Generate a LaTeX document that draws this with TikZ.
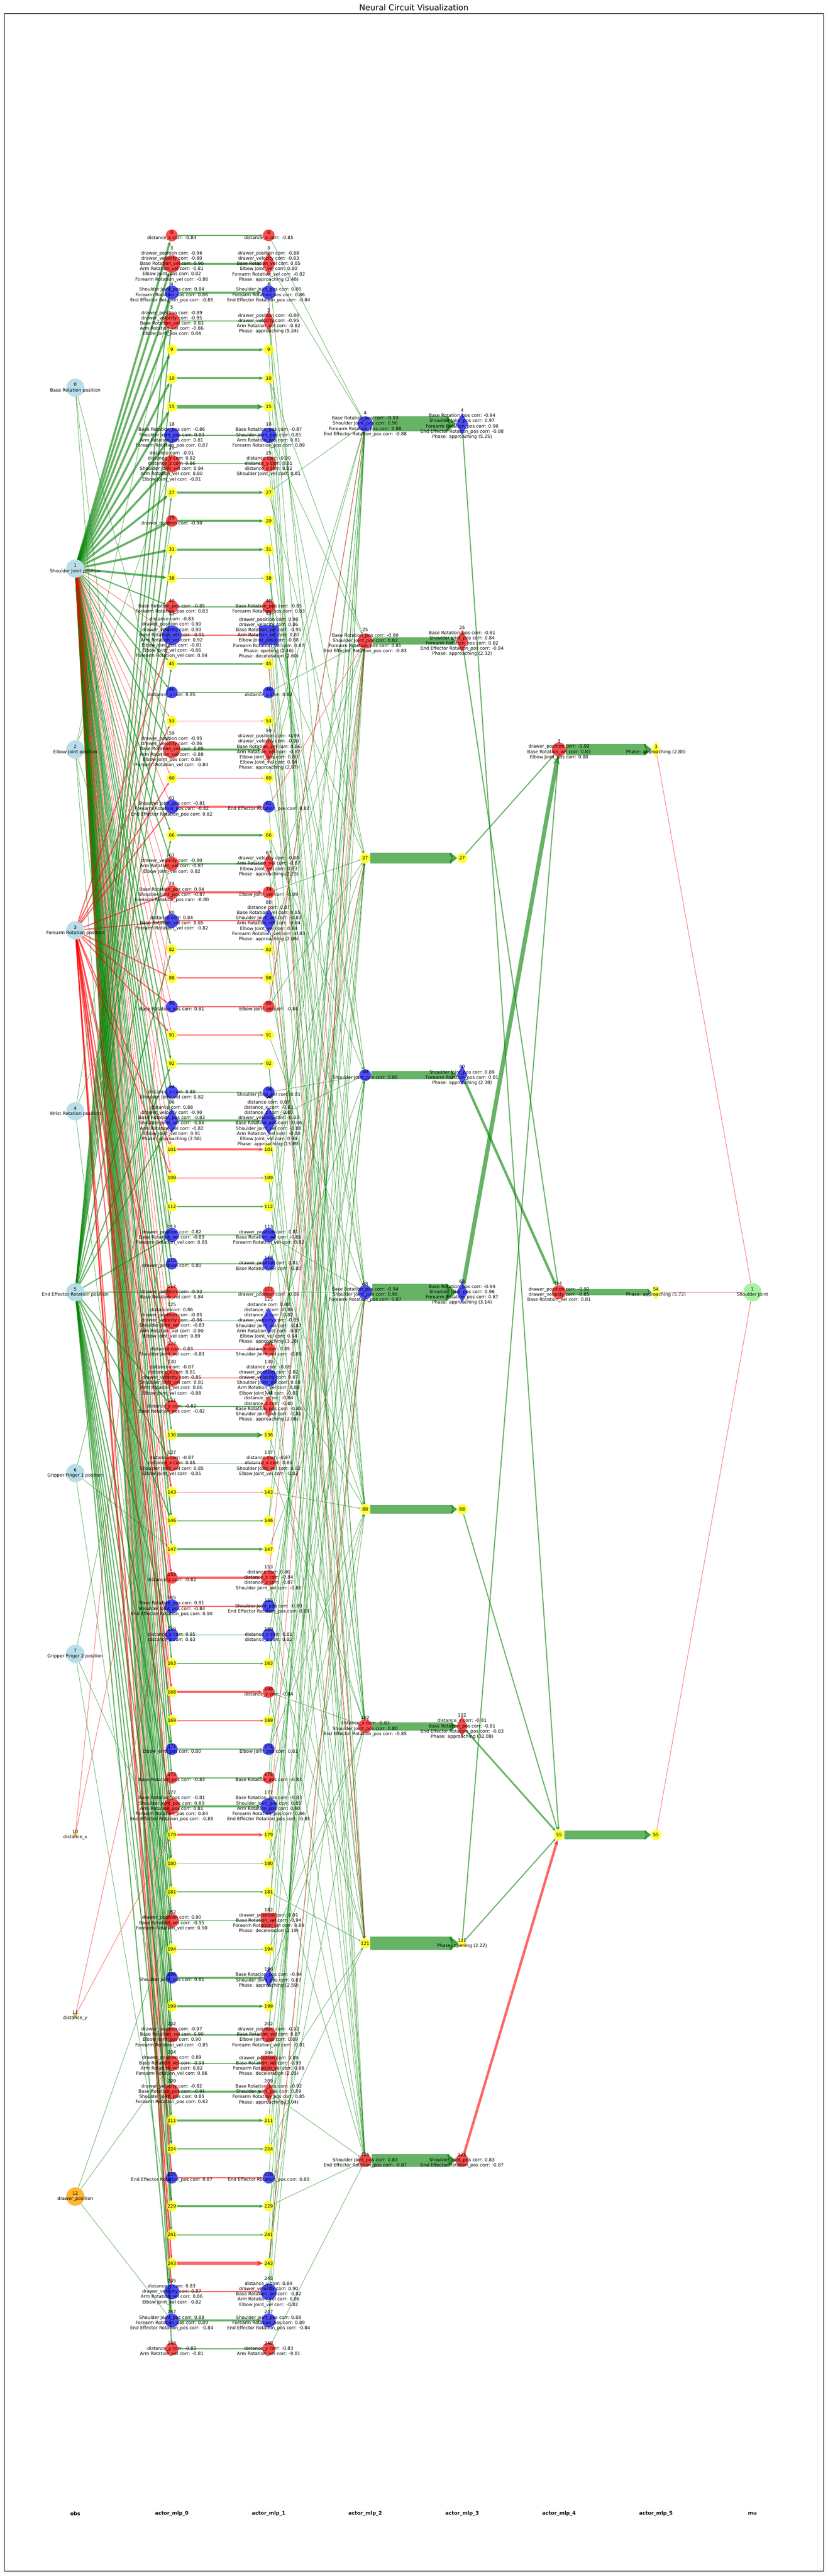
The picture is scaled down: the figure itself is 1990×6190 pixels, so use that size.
\documentclass[tikz,border=0pt]{standalone}
\usepackage{fontspec}
\setmainfont{DejaVu Sans}
\usetikzlibrary{shapes.geometric, arrows.meta}
\pgfdeclarelayer{edges}
\pgfdeclarelayer{labels}
\pgfsetlayers{edges,main,labels}

\definecolor{ngreen}{RGB}{0,128,0}
\definecolor{nred}{RGB}{255,0,0}
\definecolor{nblue}{RGB}{0,0,255}
\definecolor{nyellow}{RGB}{255,255,0}
\definecolor{obsblue}{RGB}{173,216,230}
\definecolor{obsorange}{RGB}{255,165,0}
\definecolor{mugreen}{RGB}{144,238,144}

\tikzset{
  neuron/.style={inner sep=0pt, outer sep=0pt, draw=none, fill opacity=.7},
  nrc/.style={neuron, circle, fill=nred, minimum size=2*#1},
  nbc/.style={neuron, circle, fill=nblue, minimum size=2*#1},
  nyc/.style={neuron, circle, fill=nyellow, fill opacity=.8, minimum size=2*#1},
  nrd/.style={neuron, diamond, fill=nred, minimum width=1.5*#1, minimum height=2.7*#1},
  nbd/.style={neuron, diamond, fill=nblue, minimum width=1.5*#1, minimum height=2.7*#1},
  nyd/.style={neuron, diamond, fill=nyellow, fill opacity=.8, minimum width=1.5*#1, minimum height=2.7*#1},
  nrs/.style={neuron, rectangle, fill=nred, minimum size=2*#1},
  nbs/.style={neuron, rectangle, fill=nblue, minimum size=2*#1},
  nyt/.style={neuron, regular polygon, regular polygon sides=3, fill=nyellow, fill opacity=.8, minimum size=2.4*#1},
  nobs/.style={neuron, circle, fill=obsblue, fill opacity=.85, minimum size=2*#1},
  norange/.style={neuron, circle, fill=obsorange, fill opacity=.8, minimum size=2*#1},
  nmu/.style={neuron, circle, fill=mugreen, fill opacity=.8, minimum size=2*#1},
  lbl/.style={align=center, inner sep=0pt, font=\fontsize{10.8}{12.6}\selectfont},
  layername/.style={font=\fontsize{12}{14}\selectfont\bfseries},
  syn/.style={-{Stealth[length=3pt 1.6, width=2.5pt 1.3]}, draw opacity=.6, fill opacity=.6},
  gthin/.style={syn, draw=ngreen, line width=1.1pt},
  gmid/.style={syn, draw=ngreen, line width=2.6pt},
  gthick/.style={syn, draw=ngreen, line width=5pt},
  gfat/.style={syn, draw=ngreen, line width=8.5pt},
  rthin/.style={syn, draw=nred, line width=1.1pt},
  rmid/.style={syn, draw=nred, line width=2.6pt},
  rthick/.style={syn, draw=nred, line width=5pt},
  rfat/.style={syn, draw=nred, line width=8.5pt},
  bar/.style={draw=ngreen, draw opacity=.6, fill opacity=.6, line width=#1,
    -{Stealth[length=2pt .75, width=2pt 1.2, round]}},
}

% one row of actor_mlp_0 / actor_mlp_1
\newcommand{\pairrow}[6]{%
  \pgfmathsetmacro{\rowy}{497+68.6316*(#1+1)}
  \node[#2] (m0r#1) at (413,\rowy) {};
  \node[#3] (m1r#1) at (646,\rowy) {};
  \begin{pgfonlayer}{labels}
    \node[lbl] at (m0r#1) {#5};
    \node[lbl] at (m1r#1) {#6};
  \end{pgfonlayer}
  \begin{pgfonlayer}{edges}
    \draw[#4] (m0r#1) -- (m1r#1);
  \end{pgfonlayer}
}
\newcommand{\yrow}[3]{\pairrow{#1}{nyc=12.5}{nyc=12.5}{#3}{#2}{#2}}

% one row of actor_mlp_2 / actor_mlp_3
\newcommand{\deeprow}[6]{%
  \pgfmathsetmacro{\rowy}{497+521.6*(#1+1)}
  \node[#2] (m2r#1) at (878,\rowy) {};
  \node[#3] (m3r#1) at (1111,\rowy) {};
  \begin{pgfonlayer}{labels}
    \node[lbl] at (m2r#1) {#5};
    \node[lbl] at (m3r#1) {#6};
  \end{pgfonlayer}
  \begin{pgfonlayer}{edges}
    \draw[bar=#4pt] (m2r#1) -- (m3r#1);
  \end{pgfonlayer}
}

\begin{document}
\begin{tikzpicture}[x=1pt, y=-1pt]
\useasboundingbox (0,0) rectangle (1990,6190);
\node[font=\fontsize{19.5}{22}\selectfont] (title) at (995,18) {Neural Circuit Visualization};
\draw[line width=1.1pt] (10,33) rectangle (1980,6178);

% obs
\node[nobs=22] (obs0) at (181,931.7) {};
\node[nobs=22] (obs1) at (181,1366.3) {};
\node[nobs=22] (obs2) at (181,1801) {};
\node[nobs=22] (obs3) at (181,2235.7) {};
\node[nobs=22] (obs4) at (181,2670.3) {};
\node[nobs=22] (obs5) at (181,3105) {};
\node[nobs=22] (obs6) at (181,3539.7) {};
\node[nobs=22] (obs7) at (181,3974.3) {};
\node[norange=5] (obs8) at (181,4409) {};
\node[norange=5] (obs9) at (181,4843.7) {};
\node[norange=22] (obs10) at (181,5278.3) {};
\begin{pgfonlayer}{labels}
  \node[lbl] at (obs0) {0\\Base Rotation position};
  \node[lbl] at (obs1) {1\\Shoulder Joint position};
  \node[lbl] at (obs2) {2\\Elbow Joint position};
  \node[lbl] at (obs3) {3\\Forearm Rotation position};
  \node[lbl] at (obs4) {4\\Wrist Rotation position};
  \node[lbl] at (obs5) {5\\End Effector Rotation position};
  \node[lbl] at (obs6) {6\\Gripper Finger 1 position};
  \node[lbl] at (obs7) {7\\Gripper Finger 2 position};
  \node[lbl] at (obs8) {10\\distance\_x};
  \node[lbl] at (obs9) {11\\distance\_y};
  \node[lbl] at (obs10) {12\\drawer\_position};
\end{pgfonlayer}

% actor_mlp_0 and actor_mlp_1
\pairrow{0}{nrc=14.3}{nrc=14.3}{gmid}{0\\distance\_x corr: -0.84}{0\\distance\_x corr: -0.85}
\pairrow{1}{nrc=20.8}{nrd=20.8}{gthick}{3\\drawer\_position corr: -0.96\\drawer\_velocity corr: -0.80\\Base Rotation\_vel corr: 0.90\\Arm Rotation\_vel corr: -0.81\\Elbow Joint\_pos corr: 0.82\\Forearm Rotation\_vel corr: -0.86}{3\\drawer\_position corr: -0.88\\drawer\_velocity corr: -0.83\\Base Rotation\_vel corr: 0.85\\Elbow Joint\_vel corr: 0.80\\Forearm Rotation\_vel corr: -0.82\\Phase: approaching (2.48)}
\pairrow{2}{nbc=16.9}{nbc=16.9}{gthick}{4\\Shoulder Joint\_pos corr: 0.84\\Forearm Rotation\_pos corr: 0.86\\End Effector Rotation\_pos corr: -0.85}{4\\Shoulder Joint\_pos corr: 0.86\\Forearm Rotation\_pos corr: 0.86\\End Effector Rotation\_pos corr: -0.84}
\pairrow{3}{nrc=19.5}{nrd=18.2}{gmid}{5\\drawer\_position corr: -0.89\\drawer\_velocity corr: -0.95\\Base Rotation\_vel corr: 0.83\\Arm Rotation\_vel corr: -0.86\\Elbow Joint\_pos corr: 0.84}{5\\drawer\_position corr: -0.80\\drawer\_velocity corr: -0.95\\Arm Rotation\_vel corr: -0.82\\Phase: approaching (5.24)}
\yrow{4}{9}{gthick}
\yrow{5}{10}{gthick}
\yrow{6}{15}{gfat}
\pairrow{7}{nbc=18.2}{nbc=18.2}{gmid}{18\\Base Rotation\_pos corr: -0.86\\Shoulder Joint\_pos corr: 0.83\\Arm Rotation\_pos corr: 0.81\\Forearm Rotation\_pos corr: 0.87}{18\\Base Rotation\_pos corr: -0.87\\Shoulder Joint\_pos corr: 0.85\\Arm Rotation\_pos corr: 0.81\\Forearm Rotation\_pos corr: 0.89}
\pairrow{8}{nrc=20.8}{nrc=18.2}{gmid}{25\\distance corr: -0.91\\distance\_y corr: 0.82\\distance\_z corr: 0.86\\Shoulder Joint\_vel corr: 0.84\\Arm Rotation\_vel corr: 0.80\\Elbow Joint\_vel corr: -0.81}{25\\distance corr: -0.90\\distance\_y corr: 0.81\\distance\_z corr: 0.82\\Shoulder Joint\_vel corr: 0.81}
\yrow{9}{27}{gthick}
\pairrow{10}{nrc=14.3}{nyc=12.5}{gthick}{29\\drawer\_position corr: -0.90}{29}
\yrow{11}{31}{gthick}
\yrow{12}{38}{gthin}
\pairrow{13}{nrc=15.6}{nrc=15.6}{gmid}{40\\Base Rotation\_pos corr: -0.85\\Forearm Rotation\_pos corr: 0.83}{40\\Base Rotation\_pos corr: -0.85\\Forearm Rotation\_pos corr: 0.83}
\pairrow{14}{nbc=23.4}{nbs=23.4}{rmid}{43\\distance corr: -0.83\\drawer\_position corr: 0.90\\drawer\_velocity corr: 0.90\\Base Rotation\_vel corr: -0.91\\Arm Rotation\_vel corr: 0.92\\Elbow Joint\_pos corr: -0.81\\Elbow Joint\_vel corr: -0.86\\Forearm Rotation\_vel corr: 0.84}{43\\drawer\_position corr: 0.98\\drawer\_velocity corr: 0.86\\Base Rotation\_vel corr: -0.95\\Arm Rotation\_vel corr: 0.87\\Elbow Joint\_pos corr: -0.88\\Forearm Rotation\_vel corr: 0.87\\Phase: opening (2.16)\\Phase: deceleration (2.60)}
\yrow{15}{45}{gmid}
\pairrow{16}{nbc=14.3}{nbc=14.3}{gmid}{46\\distance\_y corr: 0.85}{46\\distance\_y corr: 0.82}
\yrow{17}{53}{rthin}
\pairrow{18}{nrc=20.8}{nrd=22.1}{gthick}{59\\drawer\_position corr: -0.95\\drawer\_velocity corr: -0.86\\Base Rotation\_vel corr: 0.89\\Arm Rotation\_vel corr: -0.88\\Elbow Joint\_pos corr: 0.86\\Forearm Rotation\_vel corr: -0.84}{59\\drawer\_position corr: -0.89\\drawer\_velocity corr: -0.90\\Base Rotation\_vel corr: 0.86\\Arm Rotation\_vel corr: -0.87\\Elbow Joint\_pos corr: 0.80\\Elbow Joint\_vel corr: 0.84\\Phase: approaching (2.97)}
\yrow{19}{60}{rthin}
\pairrow{20}{nbc=16.9}{nbc=14.3}{rthick}{61\\Shoulder Joint\_pos corr: -0.81\\Forearm Rotation\_pos corr: -0.82\\End Effector Rotation\_pos corr: 0.82}{61\\End Effector Rotation\_pos corr: 0.82}
\yrow{21}{66}{gthick}
\pairrow{22}{nrc=16.9}{nrd=18.2}{gmid}{67\\drawer\_velocity corr: -0.80\\Arm Rotation\_vel corr: -0.87\\Elbow Joint\_vel corr: 0.82}{67\\drawer\_velocity corr: -0.80\\Arm Rotation\_vel corr: -0.87\\Elbow Joint\_vel corr: 0.83\\Phase: approaching (2.23)}
\pairrow{23}{nrc=16.9}{nrc=14.3}{rthick}{74\\Base Rotation\_pos corr: 0.84\\Shoulder Joint\_pos corr: -0.87\\Forearm Rotation\_pos corr: -0.80}{74\\Elbow Joint\_vel corr: -0.89}
\pairrow{24}{nbc=16.9}{nbd=22.1}{rmid}{80\\distance corr: 0.84\\Base Rotation\_vel corr: 0.85\\Forearm Rotation\_vel corr: -0.82}{80\\distance corr: 0.87\\Base Rotation\_vel corr: 0.85\\Shoulder Joint\_vel corr: -0.83\\Arm Rotation\_vel corr: -0.84\\Elbow Joint\_vel corr: 0.84\\Forearm Rotation\_vel corr: -0.83\\Phase: approaching (2.06)}
\yrow{25}{82}{gthin}
\yrow{26}{88}{rmid}
\pairrow{27}{nbc=14.3}{nrc=14.3}{rmid}{90\\Base Rotation\_pos corr: 0.81}{90\\Elbow Joint\_vel corr: -0.84}
\yrow{28}{91}{rmid}
\yrow{29}{92}{gmid}
\pairrow{30}{nbc=15.6}{nbc=14.3}{gmid}{94\\distance\_x corr: 0.80\\Shoulder Joint\_vel corr: 0.82}{94\\Shoulder Joint\_vel corr: 0.81}
\pairrow{31}{nbd=22.1}{nbd=24.7}{gthick}{96\\distance corr: 0.88\\drawer\_velocity corr: -0.90\\Base Rotation\_pos corr: -0.83\\Shoulder Joint\_vel corr: -0.86\\Arm Rotation\_vel corr: -0.82\\Elbow Joint\_vel corr: 0.91\\Phase: approaching (2.58)}{96\\distance corr: 0.87\\distance\_x corr: -0.83\\distance\_z corr: -0.80\\drawer\_velocity corr: -0.83\\Base Rotation\_pos corr: -0.86\\Shoulder Joint\_vel corr: -0.88\\Arm Rotation\_vel corr: -0.80\\Elbow Joint\_vel corr: 0.94\\Phase: approaching (15.89)}
\yrow{32}{101}{rthick}
\yrow{33}{109}{rthin}
\yrow{34}{112}{gmid}
\pairrow{35}{nbc=16.9}{nbc=16.9}{gmid}{113\\drawer\_position corr: 0.82\\Base Rotation\_vel corr: -0.83\\Forearm Rotation\_vel corr: 0.85}{113\\drawer\_position corr: 0.81\\Base Rotation\_vel corr: -0.81\\Forearm Rotation\_vel corr: 0.82}
\pairrow{36}{nbc=14.3}{nbc=15.6}{gmid}{115\\drawer\_position corr: 0.80}{115\\drawer\_position corr: 0.81\\Base Rotation\_vel corr: -0.80}
\pairrow{37}{nrc=15.6}{nrc=14.3}{gmid}{117\\drawer\_position corr: -0.92\\Base Rotation\_vel corr: 0.84}{117\\drawer\_position corr: -0.86}
\pairrow{38}{nrc=20.8}{nbd=23.4}{gthin}{125\\distance corr: 0.86\\drawer\_position corr: -0.85\\drawer\_velocity corr: -0.86\\Shoulder Joint\_vel corr: -0.83\\Arm Rotation\_vel corr: -0.90\\Elbow Joint\_vel corr: 0.89}{125\\distance corr: 0.88\\distance\_x corr: -0.84\\distance\_z corr: -0.82\\drawer\_velocity corr: -0.85\\Shoulder Joint\_vel corr: -0.87\\Arm Rotation\_vel corr: -0.87\\Elbow Joint\_vel corr: 0.94\\Phase: approaching (3.28)}
\pairrow{39}{nrc=15.6}{nrc=15.6}{rthin}{127\\distance corr: 0.83\\Shoulder Joint\_vel corr: -0.83}{127\\distance corr: 0.85\\Shoulder Joint\_vel corr: -0.85}
\pairrow{40}{nrc=20.8}{nbc=20.8}{rthin}{130\\distance corr: -0.87\\distance\_x corr: 0.81\\drawer\_velocity corr: 0.85\\Shoulder Joint\_vel corr: 0.81\\Arm Rotation\_vel corr: 0.86\\Elbow Joint\_vel corr: -0.88}{130\\distance corr: -0.88\\drawer\_position corr: 0.82\\drawer\_velocity corr: 0.87\\Shoulder Joint\_vel corr: 0.80\\Arm Rotation\_vel corr: 0.88\\Elbow Joint\_vel corr: -0.87}
\pairrow{41}{nrc=15.6}{nrd=19.5}{gmid}{131\\distance\_x corr: -0.82\\Base Rotation\_pos corr: -0.82}{131\\distance\_x corr: -0.84\\distance\_z corr: -0.80\\Base Rotation\_pos corr: -0.83\\Shoulder Joint\_vel corr: -0.81\\Phase: approaching (2.06)}
\yrow{42}{136}{gfat}
\pairrow{43}{nrc=18.2}{nrc=18.2}{gthin}{137\\distance corr: -0.87\\distance\_x corr: 0.85\\Shoulder Joint\_vel corr: 0.85\\Elbow Joint\_vel corr: -0.85}{137\\distance corr: -0.87\\distance\_x corr: 0.81\\Shoulder Joint\_vel corr: 0.82\\Elbow Joint\_vel corr: -0.82}
\yrow{44}{143}{rthin}
\yrow{45}{146}{gmid}
\yrow{46}{147}{gthick}
\pairrow{47}{nrc=14.3}{nrc=18.2}{rthick}{153\\distance\_z corr: -0.82}{153\\distance corr: 0.80\\distance\_x corr: -0.84\\distance\_z corr: -0.87\\Shoulder Joint\_vel corr: -0.85}
\pairrow{48}{nbc=16.9}{nbc=15.6}{rmid}{155\\Base Rotation\_pos corr: 0.81\\Shoulder Joint\_pos corr: -0.84\\End Effector Rotation\_pos corr: 0.90}{155\\Shoulder Joint\_pos corr: -0.80\\End Effector Rotation\_pos corr: 0.89}
\pairrow{49}{nbc=15.6}{nbc=15.6}{gthin}{159\\distance\_x corr: 0.85\\distance\_z corr: 0.83}{159\\distance\_x corr: 0.81\\distance\_z corr: 0.82}
\yrow{50}{163}{gmid}
\pairrow{51}{nyc=12.5}{nrc=14.3}{rthick}{168}{168\\distance\_y corr: -0.84}
\yrow{52}{169}{rmid}
\pairrow{53}{nbc=14.3}{nbc=14.3}{gmid}{171\\Elbow Joint\_pos corr: 0.80}{171\\Elbow Joint\_pos corr: 0.81}
\pairrow{54}{nrc=14.3}{nrc=14.3}{gmid}{173\\Base Rotation\_pos corr: -0.83}{173\\Base Rotation\_pos corr: -0.83}
\pairrow{55}{nrc=19.5}{nbc=19.5}{gthick}{177\\Base Rotation\_pos corr: -0.81\\Shoulder Joint\_pos corr: 0.83\\Arm Rotation\_pos corr: 0.81\\Forearm Rotation\_pos corr: 0.84\\End Effector Rotation\_pos corr: -0.85}{177\\Base Rotation\_pos corr: -0.83\\Shoulder Joint\_pos corr: 0.85\\Arm Rotation\_pos corr: 0.80\\Forearm Rotation\_pos corr: 0.86\\End Effector Rotation\_pos corr: -0.85}
\yrow{56}{179}{rthick}
\yrow{57}{180}{gthin}
\yrow{58}{181}{gmid}
\pairrow{59}{nrc=16.9}{nrs=18.2}{gthin}{182\\drawer\_position corr: 0.90\\Base Rotation\_vel corr: -0.95\\Forearm Rotation\_vel corr: 0.90}{182\\drawer\_position corr: 0.91\\Base Rotation\_vel corr: -0.94\\Forearm Rotation\_vel corr: 0.89\\Phase: deceleration (2.19)}
\yrow{60}{194}{gthin}
\pairrow{61}{nbc=14.3}{nbd=16.9}{gthick}{196\\Shoulder Joint\_pos corr: 0.81}{196\\Base Rotation\_pos corr: -0.84\\Shoulder Joint\_pos corr: 0.87\\Phase: approaching (2.59)}
\yrow{62}{199}{gthick}
\pairrow{63}{nrc=18.2}{nrc=18.2}{gmid}{202\\drawer\_position corr: -0.97\\Base Rotation\_vel corr: 0.90\\Elbow Joint\_pos corr: 0.90\\Forearm Rotation\_vel corr: -0.85}{202\\drawer\_position corr: -0.92\\Base Rotation\_vel corr: 0.87\\Elbow Joint\_pos corr: 0.89\\Forearm Rotation\_vel corr: -0.81}
\pairrow{64}{nrc=18.2}{nrs=18.2}{gmid}{204\\drawer\_position corr: 0.89\\Base Rotation\_vel corr: -0.93\\Arm Rotation\_vel corr: 0.82\\Forearm Rotation\_vel corr: 0.86}{204\\drawer\_position corr: 0.89\\Base Rotation\_vel corr: -0.93\\Forearm Rotation\_vel corr: 0.86\\Phase: deceleration (2.05)}
\pairrow{65}{nrc=18.2}{nrd=18.2}{gthick}{209\\drawer\_velocity corr: -0.82\\Base Rotation\_pos corr: -0.91\\Shoulder Joint\_pos corr: 0.85\\Forearm Rotation\_pos corr: 0.82}{209\\Base Rotation\_pos corr: -0.92\\Shoulder Joint\_pos corr: 0.89\\Forearm Rotation\_pos corr: 0.85\\Phase: approaching (3.04)}
\yrow{66}{211}{gthick}
\yrow{67}{224}{gmid}
\pairrow{68}{nbc=14.3}{nbc=14.3}{rmid}{226\\End Effector Rotation\_pos corr: 0.87}{226\\End Effector Rotation\_pos corr: 0.80}
\yrow{69}{229}{gthick}
\yrow{70}{241}{gmid}
\yrow{71}{243}{rfat}
\pairrow{72}{nbc=18.2}{nbc=19.5}{rmid}{245\\distance\_y corr: 0.83\\drawer\_velocity corr: 0.87\\Arm Rotation\_vel corr: 0.86\\Elbow Joint\_vel corr: -0.82}{245\\distance\_y corr: 0.84\\drawer\_velocity corr: 0.90\\Base Rotation\_vel corr: -0.82\\Arm Rotation\_vel corr: 0.86\\Elbow Joint\_vel corr: -0.82}
\pairrow{73}{nbc=16.9}{nbc=16.9}{gthick}{247\\Shoulder Joint\_pos corr: 0.88\\Forearm Rotation\_pos corr: 0.89\\End Effector Rotation\_pos corr: -0.84}{247\\Shoulder Joint\_pos corr: 0.88\\Forearm Rotation\_pos corr: 0.89\\End Effector Rotation\_pos corr: -0.84}
\pairrow{74}{nrc=15.6}{nrc=15.6}{gmid}{248\\distance\_y corr: -0.82\\Arm Rotation\_vel corr: -0.81}{248\\distance\_y corr: -0.83\\Arm Rotation\_vel corr: -0.81}

% actor_mlp_2 and actor_mlp_3
\deeprow{0}{nbc=18.2}{nbd=19.5}{36}{4\\Base Rotation\_pos corr: -0.93\\Shoulder Joint\_pos corr: 0.96\\Forearm Rotation\_pos corr: 0.88\\End Effector Rotation\_pos corr: -0.88}{4\\Base Rotation\_pos corr: -0.94\\Shoulder Joint\_pos corr: 0.97\\Forearm Rotation\_pos corr: 0.90\\End Effector Rotation\_pos corr: -0.88\\Phase: approaching (5.25)}
\deeprow{1}{nrc=18.2}{nrd=19.5}{17}{25\\Base Rotation\_pos corr: -0.80\\Shoulder Joint\_pos corr: 0.82\\Forearm Rotation\_pos corr: 0.81\\End Effector Rotation\_pos corr: -0.83}{25\\Base Rotation\_pos corr: -0.81\\Shoulder Joint\_pos corr: 0.84\\Forearm Rotation\_pos corr: 0.82\\End Effector Rotation\_pos corr: -0.84\\Phase: approaching (2.32)}
\deeprow{2}{nyc=12.5}{nyc=12.5}{26}{27}{27}
\deeprow{3}{nbc=14.3}{nbd=16.9}{20}{40\\Shoulder Joint\_pos corr: 0.86}{40\\Shoulder Joint\_pos corr: 0.89\\Forearm Rotation\_pos corr: 0.81\\Phase: approaching (2.38)}
\deeprow{4}{nbc=16.9}{nbd=18.2}{41}{68\\Base Rotation\_pos corr: -0.94\\Shoulder Joint\_pos corr: 0.96\\Forearm Rotation\_pos corr: 0.87}{68\\Base Rotation\_pos corr: -0.94\\Shoulder Joint\_pos corr: 0.96\\Forearm Rotation\_pos corr: 0.87\\Phase: approaching (3.14)}
\deeprow{5}{nyc=12.5}{nyc=12.5}{20}{88}{88}
\deeprow{6}{nrc=16.9}{nrd=18.2}{20}{102\\distance\_x corr: -0.83\\Shoulder Joint\_pos corr: 0.80\\End Effector Rotation\_pos corr: -0.85}{102\\distance\_x corr: -0.81\\Base Rotation\_pos corr: -0.81\\End Effector Rotation\_pos corr: -0.83\\Phase: approaching (32.08)}
\deeprow{7}{nyc=12.5}{nyt=12.5}{33}{121}{121\\Phase: opening (2.22)}
\deeprow{8}{nrc=15.6}{nrc=15.6}{30}{125\\Shoulder Joint\_pos corr: 0.83\\End Effector Rotation\_pos corr: -0.87}{125\\Shoulder Joint\_pos corr: 0.83\\End Effector Rotation\_pos corr: -0.87}

% actor_mlp_4, actor_mlp_5, mu
\node[nrc=16.9] (m4r0) at (1344,1801) {};
\node[nrc=16.9] (m4r1) at (1344,3105) {};
\node[nyc=12.5] (m4r2) at (1344,4409) {};
\node[nyd=14] (m5r0) at (1577,1801) {};
\node[nyd=14] (m5r1) at (1577,3105) {};
\node[nyc=12.5] (m5r2) at (1577,4409) {};
\node[nmu=22] (mu1) at (1809,3105) {};
\begin{pgfonlayer}{labels}
  \node[lbl] at (m4r0) {3\\drawer\_position corr: -0.92\\Base Rotation\_vel corr: 0.83\\Elbow Joint\_pos corr: 0.88};
  \node[lbl] at (m4r1) {54\\drawer\_position corr: -0.92\\drawer\_velocity corr: -0.85\\Base Rotation\_vel corr: 0.81};
  \node[lbl] at (m4r2) {55};
  \node[lbl] at (m5r0) {3\\Phase: approaching (2.88)};
  \node[lbl] at (m5r1) {54\\Phase: approaching (5.72)};
  \node[lbl] at (m5r2) {55};
  \node[lbl] at (mu1) {1\\Shoulder Joint};
\end{pgfonlayer}

\begin{pgfonlayer}{edges}
  % obs -> actor_mlp_0
  \foreach \k in {0,...,12} \draw[gthick] (obs1) -- (m0r\k);
  \foreach \k in {13,15,16,18,21,22,25,29,30,31,34,35,36,37,38,41,42,43,45,46,49,50,53,54,55,57,58,59,60,61,62,63,64,65,66,67,69,70,73,74}
    \draw[gmid] (obs1) -- (m0r\k);
  \foreach \k in {14,17,19,20,23,24,26,27,28,32,33,39,40,44,47,48,51,52,56,68,71,72} {
    \draw[rmid] (obs3) -- (m0r\k);
    \draw[rthin] (obs1) -- (m0r\k);
  }
  \foreach \k in {1,3,5,7,9,11,13,15,21,25,29,31,35,37,41,43,45,49,53,55,57,59,61,63,65,67,69,73}
    \draw[gmid] (obs5) -- (m0r\k);
  \foreach \k in {18,36,53} \draw[gthin] (obs0) -- (m0r\k);
  \foreach \k in {2,8,29,45,62} \draw[gthin] (obs2) -- (m0r\k);
  \foreach \k in {10,22,58} \draw[gthin] (obs4) -- (m0r\k);
  \foreach \k in {30,46,66} \draw[gthin] (obs6) -- (m0r\k);
  \foreach \k in {34,57,70} \draw[gthin] (obs7) -- (m0r\k);
  \foreach \k in {23,40} \draw[rthin] (obs8) -- (m0r\k);
  \foreach \k in {47,56} \draw[rthin] (obs9) -- (m0r\k);
  \foreach \k in {59,64,73} \draw[gthin] (obs10) -- (m0r\k);
  % actor_mlp_1 -> actor_mlp_2
  \foreach \k in {0,...,74} {
    \pgfmathtruncatemacro{\j}{mod(4*\k,9)}
    \draw[gthin] (m1r\k) -- (m2r\j);
  }
  \foreach \k in {1,3,...,73} {
    \pgfmathtruncatemacro{\j}{mod(7*\k+2,9)}
    \draw[gthin] (m1r\k) -- (m2r\j);
  }
  \foreach \k in {14,20,23,27,40,47,56,71} {
    \pgfmathtruncatemacro{\j}{mod(5*\k,9)}
    \draw[rthin] (m1r\k) -- (m2r\j);
  }
  % actor_mlp_3 -> actor_mlp_4
  \draw[gmid] (m3r2) -- (m4r0);
  \draw[syn, draw=ngreen, line width=10pt] (m3r4) -- (m4r0);
  \draw[gmid] (m3r7) -- (m4r0);
  \draw[gmid] (m3r1) -- (m4r1);
  \draw[syn, draw=ngreen, line width=6pt] (m3r3) -- (m4r1);
  \draw[gmid] (m3r0) -- (m4r2);
  \draw[gmid] (m3r5) -- (m4r2);
  \draw[syn, draw=ngreen, line width=4pt] (m3r6) -- (m4r2);
  \draw[gmid] (m3r7) -- (m4r2);
  \draw[syn, draw=nred, line width=6pt] (m3r8) -- (m4r2);
  % actor_mlp_4 -> actor_mlp_5 -> mu
  \draw[bar=27pt] (m4r0) -- (m5r0);
  \draw[bar=14pt] (m4r1) -- (m5r1);
  \draw[bar=22pt] (m4r2) -- (m5r2);
  \draw[rthin] (m5r0) -- (mu1);
  \draw[rthin] (m5r1) -- (mu1);
  \draw[rthin] (m5r2) -- (mu1);
\end{pgfonlayer}

% layer names
\node[layername] (lobs) at (181,6040) {obs};
\node[layername] (l0) at (413,6040) {actor\_mlp\_0};
\node[layername] (l1) at (646,6040) {actor\_mlp\_1};
\node[layername] (l2) at (878,6040) {actor\_mlp\_2};
\node[layername] (l3) at (1111,6040) {actor\_mlp\_3};
\node[layername] (l4) at (1344,6040) {actor\_mlp\_4};
\node[layername] (l5) at (1577,6040) {actor\_mlp\_5};
\node[layername] (lmu) at (1809,6040) {mu};
\end{tikzpicture}
\end{document}
